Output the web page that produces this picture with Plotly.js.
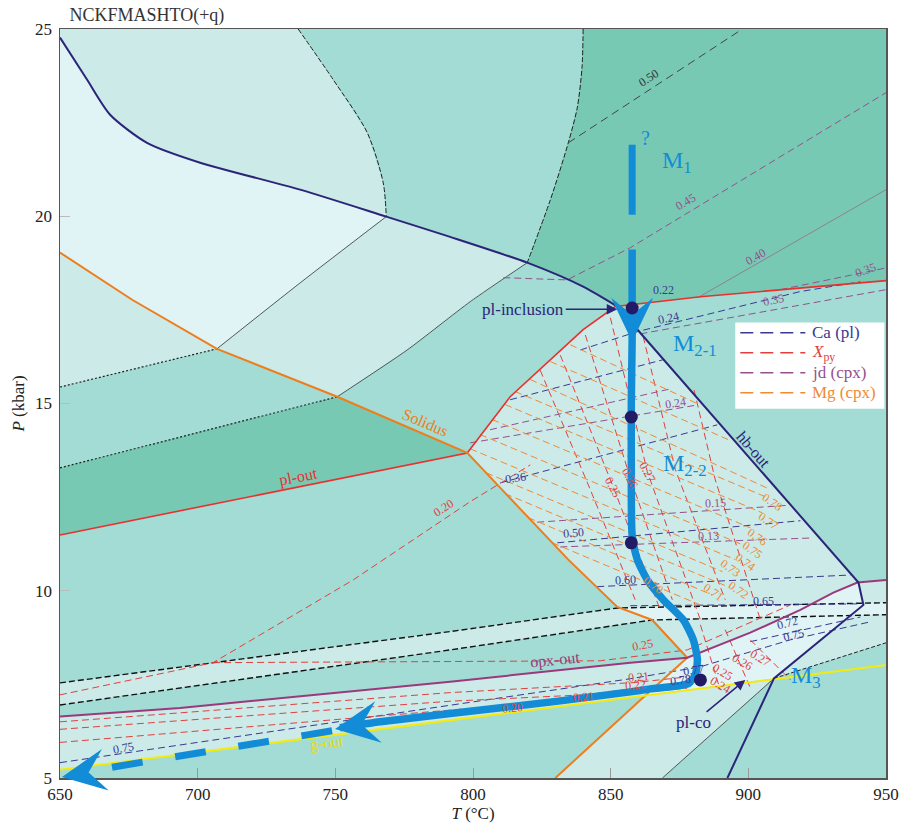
<!DOCTYPE html>
<html>
<head>
<meta charset="utf-8">
<script src="https://cdn.plot.ly/plotly-3.0.1.min.js"></script>
<style>
  html, body { margin: 0; padding: 0; background: #ffffff; }
  #chart { width: 903px; height: 828px; }
</style>
</head>
<body>
<div id="chart"></div>
<script>
// ---------- axes ----------
const T_RANGE = [650, 950];
const P_RANGE = [5, 25];
const T_TICKS = [650, 700, 750, 800, 850, 900, 950];
const P_TICKS = [5, 10, 15, 20, 25];

// ---------- field boundaries (T in °C, P in kbar) ----------
// hb-out: curved high-P branch (first 11 vertices) then the straight segments
const hbOutT = [650, 659.8, 668.2, 681.6, 700.9, 737.2, 768.5, 791.7, 819.7, 840.0, 852.4, 940.0, 941.8, 909.3, 892.4];
const hbOutP = [24.77, 23.65, 22.71, 21.96, 21.43, 20.71, 19.99, 19.45, 18.76, 18.12, 17.59, 10.22, 9.62, 7.66, 5.0];
const HB_CURVED = 11;

const plOutT = [650, 797.9, 813.5, 828.1, 840.0, 851.7, 882.6, 950];
const plOutP = [11.49, 13.68, 15.18, 16.17, 16.97, 17.59, 17.85, 18.28];

const solidusT = [650, 676.2, 707.0, 750.7, 797.9, 834.6, 852.4, 865.1, 877.8, 862.7, 829.9];
const solidusP = [19.03, 17.77, 16.46, 15.18, 13.68, 10.83, 9.57, 9.22, 8.21, 7.21, 5.0];

const opxOutT = [650, 693.6, 791.7, 857.1, 877.8, 900.7, 918.9, 930.9, 939.6, 950];
const opxOutP = [6.64, 6.87, 7.57, 8.08, 8.21, 8.88, 9.49, 9.95, 10.22, 10.29];

const gOutT = [650, 950];
const gOutP = [5.22, 8.02];

const band1T = [650, 791.7, 852.4, 950];
const band1P = [7.54, 8.91, 9.54, 9.68];
const band2T = [650, 791.7, 865.1, 950];
const band2P = [6.95, 8.42, 9.22, 9.36];

const lowBlackT = [868.8, 909.3];
const lowBlackP = [5.0, 7.66];
const lowBlackExtT = [909.3, 950];
const lowBlackExtP = [7.66, 8.61];

const curve1T = [736.5, 749.2, 761.6, 767.4, 768.5];
const curve1P = [25, 23.65, 22.23, 20.89, 19.99];
const curve2T = [840.0, 839.6, 837.9, 834.6, 828.1, 819.7];
const curve2P = [25, 23.98, 22.91, 21.96, 20.44, 18.76];
const line3T = [768.5, 737.2, 707.0];
const line3P = [19.99, 18.22, 16.46];
const line4T = [819.7, 799.0, 776.1, 750.7];
const line4P = [18.76, 17.72, 16.43, 15.18];
const dotted5T = [650, 707.0];
const dotted5P = [15.44, 16.46];
const dotted6T = [650, 750.7];
const dotted6P = [13.28, 15.18];

// ---------- assemblage fields ----------
const fieldAT = [650, 736.5, 749.2, 761.6, 767.4, 768.5, 737.2, 700.9, 681.6, 668.2, 659.8, 650];
const fieldAP = [25, 25, 23.65, 22.23, 20.89, 19.99, 20.71, 21.43, 21.96, 22.71, 23.65, 24.77];
const fieldCT = [840, 950, 950, 882.6, 851.7, 840.0, 819.7, 828.1, 834.6, 837.9, 839.6];
const fieldCP = [25, 25, 18.28, 17.85, 17.59, 18.12, 18.76, 20.44, 21.96, 22.91, 23.98];
const fieldDT = [650, 659.8, 668.2, 681.6, 700.9, 737.2, 768.5, 737.2, 707.0, 676.2, 650];
const fieldDP = [24.77, 23.65, 22.71, 21.96, 21.43, 20.71, 19.99, 18.22, 16.46, 17.77, 19.03];
const fieldE1T = [650, 676.2, 707.0, 650];
const fieldE1P = [19.03, 17.77, 16.46, 15.44];
const fieldE2T = [768.5, 791.7, 819.7, 799.0, 776.1, 750.7, 707.0, 737.2];
const fieldE2P = [19.99, 19.45, 18.76, 17.72, 16.43, 15.18, 16.46, 18.22];
const fieldGT = [650, 750.7, 797.9, 650];
const fieldGP = [13.28, 15.18, 13.68, 11.49];
const fieldJT = [851.7, 840.0, 828.1, 813.5, 797.9, 834.6, 852.4, 865.1, 877.8, 900.7, 918.9, 930.9, 939.6, 940.0];
const fieldJP = [17.59, 16.97, 16.17, 15.18, 13.68, 10.83, 9.57, 9.22, 8.21, 8.88, 9.49, 9.95, 10.22, 10.22];
const fieldKT = [940.0, 950, 950, 909.3, 941.8];
const fieldKP = [10.22, 10.29, 8.61, 7.66, 9.62];
const fieldLowRightT = [877.8, 862.7, 909.3, 941.8, 940.0, 939.6, 930.9, 918.9, 900.7];
const fieldLowRightP = [8.21, 7.21, 7.66, 9.62, 10.22, 10.22, 9.95, 9.49, 8.88];
const fieldLowBandT = [650, 693.6, 791.7, 857.1, 877.8, 862.7, 650];
const fieldLowBandP = [6.64, 6.87, 7.57, 8.08, 8.21, 7.21, 5.22];
const fieldBelowGT = [862.7, 829.9, 868.8, 909.3];
const fieldBelowGP = [7.21, 5.0, 5.0, 7.66];
const fieldBandLT = [650, 791.7, 852.4, 865.1, 791.7, 650];
const fieldBandLP = [7.54, 8.91, 9.54, 9.22, 8.42, 6.95];
const fieldBandRT = [852.4, 950, 950, 865.1];
const fieldBandRP = [9.54, 9.68, 9.36, 9.22];

// ---------- isopleths ----------
const caIsoT = [
  [839.0, 859.7, 918.9, 940.7],
  [809.9, 888.7],
  [813.5, 869.1],
  [830.6, 918.9],
  [845.1, 937.1],
  [857.1, 940.7],
  [900.7, 940.7],
  [650, 791.7, 857.1, 882.6, 915.3, 944.3]
];
const caIsoP = [
  [16.43, 16.92, 17.99, 18.25],
  [12.88, 14.43],
  [15.10, 16.17],
  [11.28, 11.87],
  [10.11, 10.42],
  [9.60, 9.65],
  [8.64, 9.30],
  [5.41, 6.93, 7.65, 7.97, 8.69, 9.17]
];

const xpyIsoT = [
  [824.4, 842.6, 858.9],
  [831.7, 850.9, 868.0],
  [840.8, 857.1, 872.4],
  [849.9, 863.3, 882.6],
  [861.8, 873.5, 891.6],
  [880.3, 888.0, 904.4],
  [882.6, 889.8],
  [891.6, 900.7],
  [900.7, 915.3],
  [650, 791.7, 814.2, 877.8],
  [650, 791.7, 840.0, 877.8],
  [650, 791.7, 858.9, 877.8],
  [650, 705.6, 756.5, 799.0, 820.8],
  [705.6, 791.7, 846.2, 877.8, 892.4, 915.3]
];
const xpyIsoP = [
  [15.89, 12.70, 9.76],
  [16.29, 12.78, 9.49],
  [16.83, 13.02, 9.76],
  [17.29, 13.18, 9.22],
  [16.79, 13.23, 9.76],
  [15.36, 12.96, 9.22],
  [9.09, 7.35],
  [8.96, 7.41],
  [8.69, 7.62],
  [5.95, 6.80, 6.95, 7.40],
  [6.30, 7.05, 7.22, 7.55],
  [6.50, 7.28, 7.55, 7.70],
  [7.22, 8.08, 10.29, 12.38, 13.36],
  [8.08, 8.10, 8.13, 8.42, 8.88, 9.62]
];

const jdIsoT = [
  [799.0, 881.5],
  [823.3, 914.2],
  [831.7, 923.3],
  [806.2, 872.3],
  [860.8, 950],
  [911.6, 950],
  [811.0, 834.2, 857.1, 950]
];
const jdIsoP = [
  [13.95, 14.96],
  [11.83, 12.28],
  [11.17, 11.41],
  [14.30, 15.40],
  [16.86, 18.04],
  [18.04, 18.62],
  [18.36, 18.30, 19.16, 23.30]
];

const mgIsoT = [
  [835.3, 881.1], [828.1, 893.8], [820.8, 906.9],
  [815.3, 906.2], [811.7, 905.1], [807.0, 900.7], [802.6, 897.8], [799.0, 895.3],
  [804.8, 890.6], [811.7, 893.5], [820.1, 886.9], [828.8, 882.6]
];
const mgIsoP = [
  [16.57, 15.01], [16.12, 14.00], [15.64, 12.74],
  [15.32, 12.51], [14.97, 12.08], [14.57, 11.68], [14.17, 11.23], [13.79, 10.83],
  [13.15, 10.51], [12.59, 10.08], [11.95, 9.89], [11.28, 9.62]
];

const iso050T = [834.6, 896.4];
const iso050P = [21.96, 24.93];
const iso040T = [881.5, 950];
const iso040P = [17.82, 20.71];

// ---------- P-T path ----------
const m1BarT = [857.8, 857.8];
const m1BarP = [21.91, 20.04];
const pathT = [857.8, 857.8, 857.8, 857.5, 857.5, 857.8, 859.7, 863.3, 869.1, 876.4, 880.0, 881.5, 880.7, 878.2, 864.4, 857.1, 831.7, 791.7, 766.3, 751.7];
const pathP = [19.11, 17.77, 16.70, 15.10, 13.23, 11.49, 10.83, 10.29, 9.76, 9.22, 8.69, 8.16, 7.75, 7.52, 7.38, 7.30, 7.06, 6.72, 6.50, 6.34];
const tailT = [748.8, 667.4];
const tailP = [6.26, 5.27];
// arrowheads: tip, and a point behind it giving the heading
const headTipT = [857.8, 749.9, 650.7];
const headTipP = [16.65, 6.31, 5.03];
const headFromT = [857.8, 766.3, 665.8];
const headFromP = [17.80, 6.50, 5.21];

const stageDotT = [857.8, 857.5, 857.5, 882.6];
const stageDotP = [17.55, 14.64, 11.28, 7.62];

// ---------- labels ----------
const isoLabelText = ['0.50', '0.45', '0.40', '0.35', '0.22', '0.24', '0.35',
  '0.24', '0.36', '0.15', '0.50', '0.13', '0.60', '0.65', '0.72', '0.75', '0.77', '0.78',
  '0.27', '0.26', '0.25',
  '0.78', '0.77', '0.76', '0.75', '0.74', '0.73', '0.72', '0.71', '0.70',
  '0.25', '0.21', '0.22', '0.21', '0.20', '0.75', '0.24', '0.25', '0.26', '0.27', '0.20'];
const isoLabelT = [863.7, 877.1, 902.5, 942.5, 869.1, 870.9, 909.1,
  873.5, 815.3, 888.0, 836.4, 885.5, 855.3, 905.5, 914.2, 916.4, 880.0, 875.3,
  863.3, 857.1, 850.9,
  908.7, 907.3, 903.3, 901.5, 898.9, 893.5, 896.4, 887.3, 865.5,
  861.5, 860.0, 858.9, 840.0, 814.2, 672.9, 889.8, 890.6, 897.8, 904.4, 789.2];
const isoLabelP = [23.70, 20.39, 18.92, 18.57, 18.04, 17.29, 17.77,
  15.02, 13.02, 12.35, 11.55, 11.47, 10.29, 9.72, 9.13, 8.82, 7.89, 7.62,
  13.17, 13.02, 12.78,
  12.38, 11.87, 11.44, 11.09, 10.77, 10.61, 10.02, 9.97, 10.16,
  8.56, 7.70, 7.49, 7.17, 6.87, 5.80, 7.49, 7.83, 8.10, 8.21, 12.21];
const isoLabelAngle = [-33, -30, -30, -20, 0, -12, -12,
  -8, -8, -3, -5, -3, -3, 0, -15, -15, -8, -8,
  62, 62, 62,
  35, 35, 35, 35, 35, 35, 35, 35, 35,
  -10, -5, -5, -5, -5, -10, 30, 30, 30, 30, -33];
const isoLabelKind = ['k', 'jd', 'jd', 'jd', 'ca', 'ca', 'jd',
  'jd', 'ca', 'jd', 'ca', 'jd', 'ca', 'ca', 'ca', 'ca', 'ca', 'ca',
  'py', 'py', 'py',
  'mg', 'mg', 'mg', 'mg', 'mg', 'mg', 'mg', 'mg', 'mg',
  'py', 'py', 'py', 'py', 'py', 'ca', 'py', 'py', 'py', 'py', 'py'];

const fieldLabelText = ['Solidus', 'pl-out', 'opx-out', 'g-out', 'hb-out'];
const fieldLabelT = [782.6, 736.5, 829.9, 747.0, 901.8];
const fieldLabelP = [14.48, 13.04, 8.16, 5.94, 13.76];
const fieldLabelAngle = [23, -11, -6, -7, 49];

const stageLabelText = ['M<sub>1</sub>', 'M<sub>2-1</sub>', 'M<sub>2-2</sub>', 'M<sub>3</sub>', '?'];
const stageLabelT = [874.2, 880.7, 877.1, 921.1, 862.6];
const stageLabelP = [21.46, 16.57, 13.36, 7.70, 22.10];

const legendNames = ['Ca (pl)', '<i>X</i><sub>py</sub>', 'jd (cpx)', 'Mg (cpx)'];
const legendKinds = ['ca', 'py', 'jd', 'mg'];

// ---------- style ----------
const SERIF = '"Liberation Serif", "DejaVu Serif", "Times New Roman", serif';
const C_VLIGHT = '#e0f3f5';
const C_LIGHT = '#cbeae8';
const C_MED = '#a2dcd4';
const C_DARK = '#78c9b3';
const NAVY = '#2c2478';
const BLUE = '#128cd6';
const KIND_COLOR = { ca: '#3a3892', py: '#e2403e', jd: '#94508e', mg: '#ef8a35', k: '#333333' };

const MARGIN = { l: 60, r: 17, t: 29, b: 50 };
const W = 903, H = 828;
const PX_PER_T = (W - MARGIN.l - MARGIN.r) / (T_RANGE[1] - T_RANGE[0]);
const PX_PER_P = (H - MARGIN.t - MARGIN.b) / (P_RANGE[1] - P_RANGE[0]);

const traces = [];
const shapes = [];
const annotations = [];

function fill(T, P, color) {
  traces.push({ type: 'scatter', x: T, y: P, mode: 'lines', fill: 'toself', fillcolor: color,
    line: { width: 0 }, hoverinfo: 'skip', showlegend: false });
}
function line(T, P, color, width, dash, extra) {
  traces.push({ type: 'scatter', x: T, y: P, mode: 'lines',
    line: Object.assign({ color: color, width: width, dash: dash || 'solid' }, extra || {}),
    hoverinfo: 'skip', showlegend: false });
}
function family(Ts, Ps, color) {
  Ts.forEach((T, i) => line(T, Ps[i], color, 1, '7px,4px'));
}
// barbed arrowhead outline built in screen space, returned in T-P units
function arrowHeadOutline(tipT, tipP, fromT, fromP) {
  const dx = (tipT - fromT) * PX_PER_T, dy = (tipP - fromP) * PX_PER_P;
  const len = Math.hypot(dx, dy), ux = dx / len, uy = dy / len, vx = -uy, vy = ux;
  const local = [[0, 0], [-44, 21], [-27, 0], [-44, -21]];
  const T = [], P = [];
  local.forEach(([a, b]) => {
    T.push(tipT + (a * ux + b * vx) / PX_PER_T);
    P.push(tipP + (a * uy + b * vy) / PX_PER_P);
  });
  return { T, P };
}

// fields
fill(fieldAT, fieldAP, C_LIGHT);
fill(fieldCT, fieldCP, C_DARK);
fill(fieldDT, fieldDP, C_VLIGHT);
fill(fieldE1T, fieldE1P, C_LIGHT);
fill(fieldE2T, fieldE2P, C_LIGHT);
fill(fieldGT, fieldGP, C_DARK);
fill(fieldJT, fieldJP, C_LIGHT);
fill(fieldKT, fieldKP, C_LIGHT);
fill(fieldLowRightT, fieldLowRightP, C_VLIGHT);
fill(fieldLowBandT, fieldLowBandP, C_LIGHT);
fill(fieldBelowGT, fieldBelowGP, C_LIGHT);
fill(fieldBandLT, fieldBandLP, C_LIGHT);
fill(fieldBandRT, fieldBandRP, C_VLIGHT);

// thin field boundaries
line(curve1T, curve1P, '#222', 1, '5px,2px', { shape: 'spline', smoothing: 0.8 });
line(curve2T, curve2P, '#222', 1, '5px,2px', { shape: 'spline', smoothing: 0.8 });
line(line3T, line3P, '#333', 0.8, 'solid', { shape: 'spline', smoothing: 0.6 });
line(line4T, line4P, '#333', 0.8, 'solid', { shape: 'spline', smoothing: 0.6 });
line(dotted5T, dotted5P, '#222', 1.2, '2px,2px');
line(dotted6T, dotted6P, '#222', 1.2, '2px,2px');
line(band1T, band1P, '#111', 1.4, '6px,3px');
line(band2T, band2P, '#111', 1.4, '6px,3px');
line(lowBlackT, lowBlackP, '#333', 0.8);
line(lowBlackExtT, lowBlackExtP, '#222', 1, '4px,2px');

// isopleths
line(iso050T, iso050P, '#444', 1, '8px,5px');
line(iso040T, iso040P, '#8c7a8c', 0.9);
family(caIsoT, caIsoP, KIND_COLOR.ca);
family(xpyIsoT, xpyIsoP, KIND_COLOR.py);
family(jdIsoT, jdIsoP, KIND_COLOR.jd);
family(mgIsoT, mgIsoP, KIND_COLOR.mg);

// main reaction lines
line(plOutT, plOutP, '#e8302e', 1.6);
line(solidusT, solidusP, '#ee7d1c', 2);
line(opxOutT, opxOutP, '#9a3a7c', 2);
line(gOutT, gOutP, '#f4ea12', 2);
line(hbOutT.slice(0, HB_CURVED), hbOutP.slice(0, HB_CURVED), NAVY, 2, 'solid', { shape: 'spline', smoothing: 0.7 });
line(hbOutT.slice(HB_CURVED - 1), hbOutP.slice(HB_CURVED - 1), NAVY, 2);

// P-T path
line(m1BarT, m1BarP, BLUE, 7);
line(pathT, pathP, BLUE, 7.5, 'solid', { shape: 'spline', smoothing: 0.6 });
line(tailT, tailP, BLUE, 7, '31px,33px');
headTipT.forEach((t, i) => {
  const h = arrowHeadOutline(t, headTipP[i], headFromT[i], headFromP[i]);
  const inside = h.T.every(v => v >= T_RANGE[0] && v <= T_RANGE[1]) && h.P.every(v => v >= P_RANGE[0] && v <= P_RANGE[1]);
  if (inside) {
    fill(h.T, h.P, BLUE);
  } else {
    // heads that reach past the frame are drawn unclipped in paper units
    const pts = h.T.map((v, k) => ((v - T_RANGE[0]) / (T_RANGE[1] - T_RANGE[0])) + ',' +
      ((h.P[k] - P_RANGE[0]) / (P_RANGE[1] - P_RANGE[0])));
    shapes.push({ type: 'path', xref: 'paper', yref: 'paper', path: 'M' + pts.join('L') + 'Z',
      fillcolor: BLUE, line: { width: 0 }, layer: 'above' });
  }
});
traces.push({ type: 'scatter', x: stageDotT, y: stageDotP, mode: 'markers',
  marker: { color: '#231a66', size: 13 }, hoverinfo: 'skip', showlegend: false });

// annotations
isoLabelText.forEach((t, i) => {
  annotations.push({ x: isoLabelT[i], y: isoLabelP[i], xref: 'x', yref: 'y', text: t, showarrow: false,
    textangle: isoLabelAngle[i], font: { family: SERIF, size: 12, color: KIND_COLOR[isoLabelKind[i]] } });
});
const fieldLabelColor = ['#ee7d1c', '#e8302e', '#9a3a7c', '#e8dc10', NAVY];
fieldLabelText.forEach((t, i) => {
  annotations.push({ x: fieldLabelT[i], y: fieldLabelP[i], xref: 'x', yref: 'y', text: t, showarrow: false,
    textangle: fieldLabelAngle[i], font: { family: SERIF, size: 16, color: fieldLabelColor[i] } });
});
stageLabelText.forEach((t, i) => {
  annotations.push({ x: stageLabelT[i], y: stageLabelP[i], xref: 'x', yref: 'y', text: t, showarrow: false,
    font: { family: SERIF, size: i === 4 ? 20 : 24, color: BLUE } });
});
annotations.push({ x: 852.4, y: 17.52, xref: 'x', yref: 'y', ax: -94, ay: 0, text: 'pl-inclusion',
  showarrow: true, arrowhead: 2, arrowsize: 1.4, arrowwidth: 1.5, arrowcolor: NAVY,
  font: { family: SERIF, size: 17, color: NAVY } });
annotations.push({ x: 898.9, y: 7.62, xref: 'x', yref: 'y', ax: -52, ay: 43, text: 'pl-co',
  showarrow: true, arrowhead: 2, arrowsize: 1.4, arrowwidth: 1.5, arrowcolor: NAVY,
  font: { family: SERIF, size: 17, color: NAVY } });

// key for the isopleth families (paper coordinates)
const KEY_BOX = { x0: 0.8175, x1: 0.998, y0: 0.493, y1: 0.608 };
const KEY_ROWS = [0.5944, 0.5677, 0.5409, 0.5142];
shapes.push({ type: 'rect', xref: 'paper', yref: 'paper', x0: KEY_BOX.x0, x1: KEY_BOX.x1,
  y0: KEY_BOX.y0, y1: KEY_BOX.y1, fillcolor: '#ffffff', line: { width: 0 }, layer: 'above' });
legendNames.forEach((name, i) => {
  const c = KIND_COLOR[legendKinds[i]];
  shapes.push({ type: 'line', xref: 'paper', yref: 'paper', x0: 0.8236, x1: 0.9023,
    y0: KEY_ROWS[i], y1: KEY_ROWS[i], line: { color: c, width: 1.5, dash: '13px,7px' }, layer: 'above' });
  annotations.push({ xref: 'paper', yref: 'paper', x: 0.9083, y: KEY_ROWS[i], xanchor: 'left', yanchor: 'middle',
    text: name, showarrow: false, font: { family: SERIF, size: 17, color: c } });
});

const axisFont = { family: SERIF, size: 17, color: '#222' };
const layout = {
  width: W, height: H,
  margin: MARGIN,
  paper_bgcolor: '#ffffff',
  plot_bgcolor: C_MED,
  hovermode: false,
  showlegend: false,
  title: { text: 'NCKFMASHTO(+q)', xref: 'container', x: 0.077, xanchor: 'left',
    yref: 'container', y: 0.982, yanchor: 'middle', font: { family: SERIF, size: 18, color: '#333' } },
  xaxis: { range: T_RANGE, tickvals: T_TICKS, ticks: 'inside', ticklen: 10, tickcolor: '#999',
    showline: true, mirror: true, linecolor: '#555', linewidth: 1.5, showgrid: false, zeroline: false,
    tickfont: axisFont, title: { text: '<i>T</i> (°C)', font: axisFont, standoff: 2 } },
  yaxis: { range: P_RANGE, tickvals: P_TICKS, ticks: 'inside', ticklen: 10, tickcolor: '#bbb',
    showline: true, mirror: true, linecolor: '#555', linewidth: 1.5, showgrid: false, zeroline: false,
    ticklabelstandoff: 3,
    tickfont: axisFont, title: { text: '<i>P</i> (kbar)', font: axisFont, standoff: 6 } },
  shapes: shapes,
  annotations: annotations
};

Plotly.newPlot('chart', traces, layout, { staticPlot: true, displayModeBar: false });
</script>
</body>
</html>
